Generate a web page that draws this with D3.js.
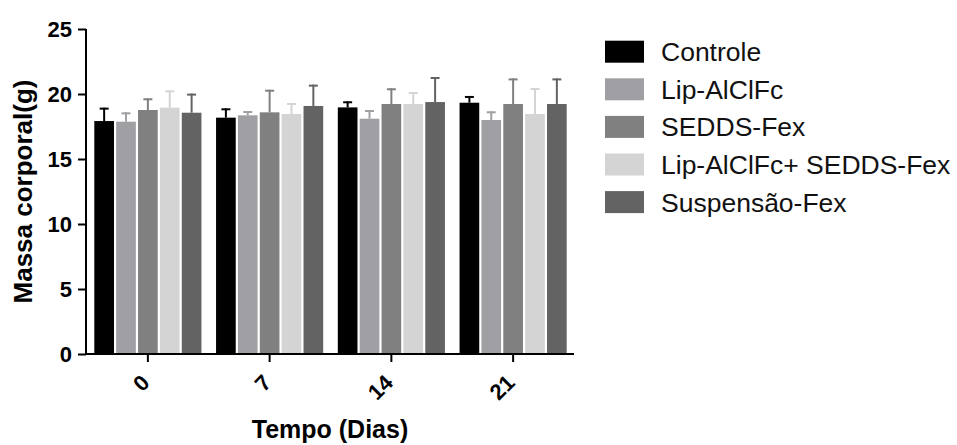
<!DOCTYPE html>
<html>
	<head>
		<meta charset="utf-8">
		<script src="https://d3js.org/d3.v7.min.js"></script>
		<style>
			body {
			margin: 0;
			background: #fff;
			}
			text {
			font-family: "Liberation Sans", Arial, sans-serif;
			}
		</style>
	</head>
	<body>
		<script type="text/javascript">
			// Data
			var days = ["0", "7", "14", "21"];
			var groups = ["Controle", "Lip-AlClFc", "SEDDS-Fex", "Lip-AlClFc+ SEDDS-Fex", "Suspensão-Fex"];
			var colors = ["#000000", "#a0a0a4", "#808080", "#d4d4d4", "#636363"];
			var means = [
				[17.92, 18.18, 18.97, 19.33],
				[17.87, 18.36, 18.10, 18.00],
				[18.77, 18.59, 19.23, 19.23],
				[18.95, 18.46, 19.23, 18.46],
				[18.56, 19.08, 19.38, 19.23]
			];
			var sds = [
				[1.03, 0.72, 0.47, 0.52],
				[0.72, 0.33, 0.67, 0.67],
				[0.90, 1.74, 1.21, 1.97],
				[1.33, 0.85, 0.92, 2.00],
				[1.47, 1.64, 1.93, 1.97]
			];
			var yTicks = [0, 5, 10, 15, 20, 25];

			var width = 957,
				height = 445;

			var svg = d3.select("body").append("svg")
				.attr("width", width)
				.attr("height", height);

			var x0 = d3.scaleBand()
				.domain(days)
				.range([87, 574])
				.paddingInner(0.12)
				.paddingOuter(0.06);

			var x1 = d3.scaleBand()
				.domain(groups)
				.range([0, x0.bandwidth()])
				.paddingInner(0.1);

			var y = d3.scaleLinear()
				.domain([0, 25])
				.range([354, 29]);

			// flatten into rows for the bars
			var rows = [];
			groups.forEach(function (g, gi) {
				days.forEach(function (d, di) {
					rows.push({ group: g, day: d, mean: means[gi][di], sd: sds[gi][di], color: colors[gi] });
				});
			});

			// Bars
			svg.selectAll("rect.bar")
				.data(rows)
				.enter()
				.append("rect")
					.attr("class", "bar")
					.attr("x", function (d) { return x0(d.day) + x1(d.group); })
					.attr("y", function (d) { return y(d.mean); })
					.attr("width", x1.bandwidth())
					.attr("height", function (d) { return y(0) - y(d.mean); })
					.attr("fill", function (d) { return d.color; });

			// Error bars (upper only)
			var err = svg.selectAll("g.err")
				.data(rows)
				.enter()
				.append("g")
					.attr("class", "err")
					.attr("stroke", function (d) { return d.color; })
					.attr("stroke-width", 2);
			err.append("line")
				.attr("x1", function (d) { return x0(d.day) + x1(d.group) + x1.bandwidth() / 2; })
				.attr("x2", function (d) { return x0(d.day) + x1(d.group) + x1.bandwidth() / 2; })
				.attr("y1", function (d) { return y(d.mean); })
				.attr("y2", function (d) { return y(d.mean + d.sd); });
			err.append("line")
				.attr("x1", function (d) { return x0(d.day) + x1(d.group) + x1.bandwidth() / 2 - 4.5; })
				.attr("x2", function (d) { return x0(d.day) + x1(d.group) + x1.bandwidth() / 2 + 4.5; })
				.attr("y1", function (d) { return y(d.mean + d.sd) + 1; })
				.attr("y2", function (d) { return y(d.mean + d.sd) + 1; });

			// Y axis
			var yAxis = svg.append("g")
				.attr("transform", "translate(86,0)")
				.call(d3.axisLeft(y).tickValues(yTicks).tickSize(8).tickSizeOuter(0).tickPadding(6));
			yAxis.select(".domain").attr("stroke-width", 2).attr("d", "M0," + (y(25)) + "V" + (y(0) + 1));
			yAxis.selectAll(".tick line").attr("stroke-width", 2);
			yAxis.selectAll(".tick text")
				.style("font-size", "22px")
				.style("font-weight", "bold")
				.attr("fill", "#000");

			// X axis
			var xAxis = svg.append("g")
				.attr("transform", "translate(0," + y(0) + ")")
				.call(d3.axisBottom(x0).tickSize(8).tickSizeOuter(0));
			xAxis.select(".domain").attr("stroke-width", 2).attr("d", "M85,0H574");
			xAxis.selectAll(".tick line").attr("stroke-width", 2);
			xAxis.selectAll(".tick text")
				.style("font-size", "22px")
				.style("font-weight", "bold")
				.attr("fill", "#000")
				.attr("text-anchor", "end")
				.attr("y", 0)
				.attr("dy", 0)
				.attr("transform", "translate(3,30) rotate(-45)");

			// Axis titles
			svg.append("text")
				.attr("transform", "translate(32," + (y(12.5)) + ") rotate(-90)")
				.attr("text-anchor", "middle")
				.style("font-size", "26px")
				.style("font-weight", "bold")
				.text("Massa corporal(g)");

			svg.append("text")
				.attr("x", (86 + 574) / 2)
				.attr("y", 438)
				.attr("text-anchor", "middle")
				.style("font-size", "25px")
				.style("font-weight", "bold")
				.text("Tempo (Dias)");

			// Legend
			var legend = svg.selectAll("g.legend")
				.data(groups)
				.enter()
				.append("g")
					.attr("class", "legend")
					.attr("transform", function (d, i) { return "translate(605," + (51.7 + i * 37.6) + ")"; });
			legend.append("rect")
				.attr("x", 0)
				.attr("y", -11)
				.attr("width", 39)
				.attr("height", 22)
				.attr("fill", function (d, i) { return colors[i]; });
			legend.append("text")
				.attr("x", 56)
				.attr("y", 9.5)
				.style("font-size", "26.5px")
				.attr("fill", "#111")
				.text(function (d) { return d; });
		</script>
	</body>
</html>
